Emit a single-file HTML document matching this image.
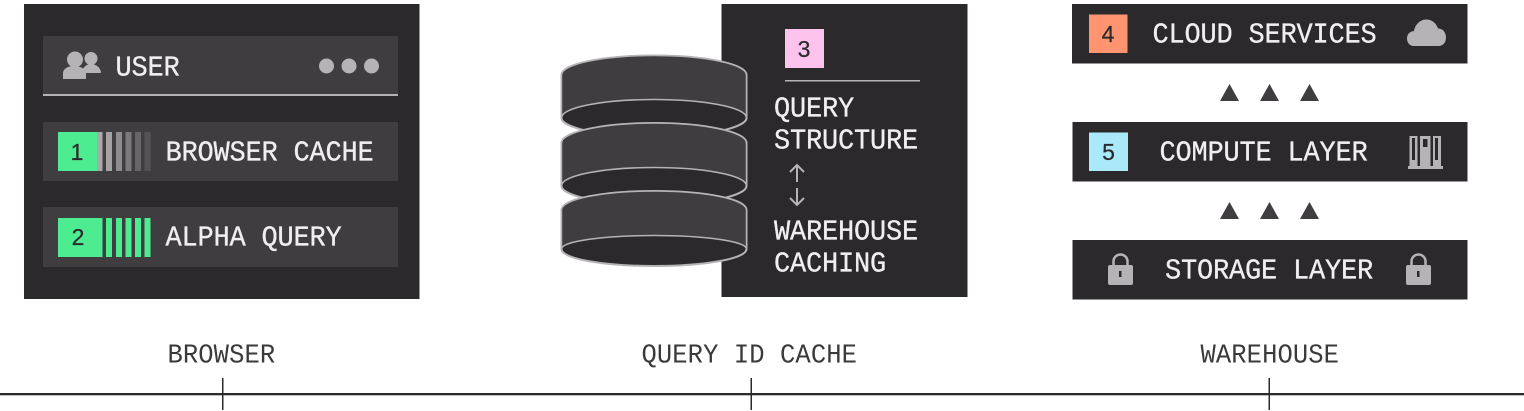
<!DOCTYPE html>
<html><head><meta charset="utf-8"><style>
html,body{margin:0;padding:0;background:#fff;width:1524px;height:411px;overflow:hidden}
svg{display:block}
.t{font-family:"Liberation Mono",monospace;font-size:27px;letter-spacing:-.2px;fill:#f0eff0;stroke:#f0eff0;stroke-width:.3px}
.l{font-family:"Liberation Mono",monospace;font-size:25.5px;letter-spacing:.1px;fill:#3a393b}
.n{font-family:"Liberation Sans",sans-serif;font-size:23px;fill:#2b2a2c;text-anchor:middle;stroke:#2b2a2c;stroke-width:.25px}
</style></head><body>
<svg width="1524" height="411" viewBox="0 0 1524 411" xmlns="http://www.w3.org/2000/svg">
<!-- panel 1 -->
<rect x="24" y="4" width="395.500" height="295" fill="#2b292c"/>
<rect x="43" y="36" width="355" height="59" fill="#3f3d40"/>
<rect x="43" y="94" width="355" height="2" fill="#b5b3b5"/>
<rect x="43" y="122" width="355" height="59" fill="#3f3d40"/>
<rect x="43" y="207" width="355" height="60" fill="#3f3d40"/>
<g fill="#b5b3b5">
<circle cx="91" cy="58.500" r="6.500"/><path d="M82 73c0-5 4-9 9-9s10 4 10 9z"/>
<circle cx="75" cy="59.500" r="8"/><path d="M63 79v-6c0-4 5-7 11-7s12 3 12 7v6z"/>
<circle cx="326.500" cy="66" r="7.500"/><circle cx="349" cy="66" r="7.500"/><circle cx="371.500" cy="66" r="7.500"/>
</g>
<text class="t" transform="translate(115.500 75.500) scale(1 1.07)">USER</text>
<rect x="58" y="132" width="39" height="39" fill="#4eec90"/>
<rect x="97" y="132" width="5.500" height="39" fill="#aaa8aa"/>
<rect x="106" y="132" width="6" height="39" fill="#a5a3a5"/>
<rect x="116" y="132" width="6" height="39" fill="#8e8c8e"/>
<rect x="125.500" y="132" width="6" height="39" fill="#7b797b"/>
<rect x="135" y="132" width="6" height="39" fill="#676568"/>
<rect x="144.500" y="132" width="6" height="39" fill="#545255"/>
<text class="n" x="77" y="160">1</text>
<text class="t" transform="translate(165.500 160.500) scale(1 1.07)">BROWSER CACHE</text>
<rect x="58" y="218" width="44.500" height="39" fill="#4eec90"/>
<rect x="106" y="218" width="6" height="39" fill="#4eec90"/>
<rect x="116" y="218" width="6" height="39" fill="#4eec90"/>
<rect x="125.500" y="218" width="6" height="39" fill="#4eec90"/>
<rect x="135" y="218" width="6" height="39" fill="#4eec90"/>
<rect x="144.500" y="218" width="6" height="39" fill="#4eec90"/>
<text class="n" x="78" y="245">2</text>
<text class="t" transform="translate(165.500 245.500) scale(1 1.07)">ALPHA QUERY</text>
<!-- panel 2 -->
<rect x="721.500" y="4" width="246" height="293" fill="#2b292c"/>
<rect x="785" y="29" width="39" height="39" fill="#fdc3ec"/>
<text class="n" x="804" y="57">3</text>
<rect x="785" y="80" width="135" height="1.500" fill="#b5b3b5"/>
<text class="t" transform="translate(774 116.500) scale(1 1.07)">QUERY</text>
<text class="t" transform="translate(774 148.500) scale(1 1.07)">STRUCTURE</text>
<text class="t" transform="translate(774 239.500) scale(1 1.07)">WAREHOUSE</text>
<text class="t" transform="translate(774 271.500) scale(1 1.07)">CACHING</text>
<g fill="none" stroke="#b5b3b5" stroke-width="2">
<path d="M797 182v-17M790 172l7-7 7 7"/>
<path d="M797 188v17M790 198l7 7 7-7"/>
</g>
<!-- cylinders -->
<g stroke="#b5b3b5" stroke-width="2">
<path d="M561.500 118V75C561.500 64 603 55.500 654 55.500S746.500 64 746.500 75V118C746.500 128 703 137 654 137S561.500 128 561.500 118Z" fill="#2b292c"/>
<path d="M561.500 118V75C561.500 64 603 55.500 654 55.500S746.500 64 746.500 75V118C746.500 107 703 99.500 654 99.500S561.500 107 561.500 118Z" fill="#3f3d40" stroke-width="1.500"/>
<path d="M561.500 186V143C561.500 132 603 123 654 123S746.500 132 746.500 143V186C746.500 196 703 205 654 205S561.500 196 561.500 186Z" fill="#2b292c"/>
<path d="M561.500 186V143C561.500 132 603 123 654 123S746.500 132 746.500 143V186C746.500 175 703 167.500 654 167.500S561.500 175 561.500 186Z" fill="#3f3d40" stroke-width="1.500"/>
<path d="M561.500 249V210C561.500 199 603 191 654 191S746.500 199 746.500 210V249C746.500 259 703 266 654 266S561.500 259 561.500 249Z" fill="#2b292c"/>
<path d="M561.500 249V210C561.500 199 603 191 654 191S746.500 199 746.500 210V249C746.500 241 703 235.500 654 235.500S561.500 241 561.500 249Z" fill="#3f3d40" stroke-width="1.500"/>
</g>
<!-- panel 3 -->
<rect x="1072" y="4" width="395.500" height="59.500" fill="#2b292c"/>
<rect x="1072.500" y="122" width="395" height="59.500" fill="#2b292c"/>
<rect x="1072.500" y="240" width="395" height="59.500" fill="#2b292c"/>
<rect x="1089" y="14.500" width="38.500" height="38.500" fill="#fe9470"/>
<text class="n" x="1108" y="42">4</text>
<rect x="1089" y="132.500" width="39" height="38.500" fill="#a9e9f9"/>
<text class="n" x="1108.500" y="160">5</text>
<text class="t" transform="translate(1152.500 42.500) scale(1 1.07)">CLOUD SERVICES</text>
<text class="t" transform="translate(1159.500 160.500) scale(1 1.07)">COMPUTE LAYER</text>
<text class="t" transform="translate(1165 278.500) scale(1 1.07)">STORAGE LAYER</text>
<g fill="#3f3d40">
<path d="M1220 101l9.500-17 9.500 17zM1260 101l9.500-17 9.500 17zM1300 101l9.500-17 9.500 17z"/>
<path d="M1220 219l9.500-17 9.500 17zM1260 219l9.500-17 9.500 17zM1300 219l9.500-17 9.500 17z"/>
</g>
<!-- cloud -->
<path d="M1414 46c-4 0-7-3-7-7.500s3-7 7-7.500c1-6 6-11.500 12-11.500 6 0 10 3.500 12 9 5 0 8 4 8 9s-3 8.500-7.500 8.500z" fill="#b5b3b5"/>
<!-- books -->
<g fill="#b5b3b5">
<rect x="1409.500" y="136" width="8" height="31"/>
<rect x="1420" y="136" width="10.500" height="31"/>
<rect x="1433" y="136" width="8" height="31"/>
<rect x="1408" y="166" width="35" height="3"/>
</g>
<g fill="#2b292c">
<rect x="1412" y="138" width="3" height="22"/>
<rect x="1423" y="139" width="4.500" height="8"/>
<rect x="1435" y="138" width="3" height="22"/>
</g>
<!-- locks -->
<g>
<path d="M1113.500 266v-4.500a7 7 0 0 1 14 0v4.500" fill="none" stroke="#b5b3b5" stroke-width="2.500"/>
<rect x="1108" y="265" width="25" height="20" rx="2" fill="#b5b3b5"/>
<rect x="1119" y="271" width="2.500" height="6" fill="#2b292c"/>
<path d="M1411.500 266v-4.500a7 7 0 0 1 14 0v4.500" fill="none" stroke="#b5b3b5" stroke-width="2.500"/>
<rect x="1406" y="265" width="25" height="20" rx="2" fill="#b5b3b5"/>
<rect x="1417" y="271" width="2.500" height="6" fill="#2b292c"/>
</g>
<!-- axis -->
<rect x="0" y="393" width="1524" height="2.300" fill="#2b2a2c"/>
<rect x="222" y="378" width="1.500" height="32" fill="#2b2a2c"/>
<rect x="750.500" y="378" width="1.500" height="32" fill="#2b2a2c"/>
<rect x="1268.500" y="378" width="1.500" height="32" fill="#2b2a2c"/>
<text class="l" transform="translate(167.500 362.500) scale(1 1.07)">BROWSER</text>
<text class="l" transform="translate(641.500 362.500) scale(1 1.07)">QUERY ID CACHE</text>
<text class="l" transform="translate(1200.500 362.500) scale(1 1.07)">WAREHOUSE</text>
</svg>
</body></html>
